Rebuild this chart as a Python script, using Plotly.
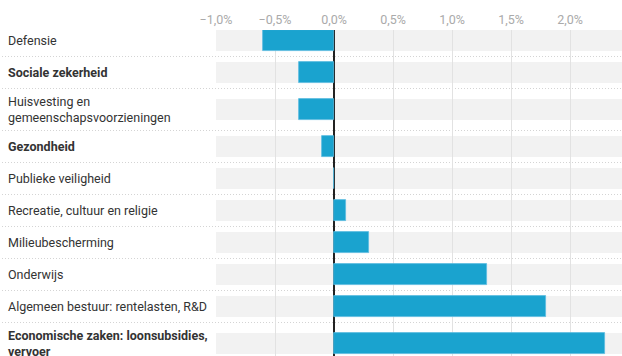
import plotly.graph_objects as go

# Change in spending share per government function (percentage points)
categories = [
    "Defensie",
    "Sociale zekerheid",
    "Huisvesting en<br>gemeenschapsvoorzieningen",
    "Gezondheid",
    "Publieke veiligheid",
    "Recreatie, cultuur en religie",
    "Milieubescherming",
    "Onderwijs",
    "Algemeen bestuur: rentelasten, R&D",
    "Economische zaken: loonsubsidies,<br>vervoer",
]
values = [-0.6, -0.3, -0.3, -0.1, 0.0, 0.1, 0.3, 1.3, 1.8, 2.3]
bold_rows = {"Sociale zekerheid", "Gezondheid", "Economische zaken: loonsubsidies,<br>vervoer"}

tick_vals = [-1.0, -0.5, 0.0, 0.5, 1.0, 1.5, 2.0]
tick_text = ["\u22121,0%", "\u22120,5%", "0,0%", "0,5%", "1,0%", "1,5%", "2,0%"]

W, H = 622, 356
PLOT_TOP = 30
LEFT = 216
X_MIN, X_MAX = -1.0, 2.44

# Row layout in pixel units: taller rows for two-line labels
row_h_single, row_h_double = 32, 42
centers, bounds = [], []
y = 24.5
for c in categories:
    h = row_h_double if "<br>" in c else row_h_single
    centers.append(y + h / 2)
    y += h
    bounds.append(y)

BAR_W = 21
BLUE = "#1aa3cf"

fig = go.Figure()
fig.add_trace(go.Bar(
    x=values, y=centers, orientation="h", width=BAR_W,
    marker=dict(color=BLUE, line=dict(color="#5cbde0", width=0.8)),
    hoverinfo="x",
))

shapes = []
# grey background bands behind each bar
for cy in centers:
    shapes.append(dict(type="rect", xref="x", yref="y", layer="below",
                       x0=X_MIN, x1=X_MAX, y0=cy - BAR_W / 2, y1=cy + BAR_W / 2,
                       fillcolor="#f2f2f2", line=dict(width=0)))
# fine dotted row separators
for b in bounds[:-1]:
    shapes.append(dict(type="line", xref="paper", yref="y", layer="below",
                       x0=-1, x1=1, y0=b, y1=b,
                       line=dict(color="#d4d4d4", width=1, dash="1px,2px")))

annotations = []
for c, cy in zip(categories, centers):
    txt = "<b>%s</b>" % c.replace("<br>", "</b><br><b>") if c in bold_rows else c
    annotations.append(dict(
        text=txt, xref="paper", yref="y", x=-(LEFT - 6) / (W - LEFT), y=cy,
        xanchor="left", yanchor="middle", align="left", showarrow=False,
        font=dict(family="Roboto", size=12.5, color="#333333"),
    ))

fig.update_layout(
    width=W, height=H,
    margin=dict(l=LEFT, r=0, t=0, b=0),
    paper_bgcolor="white", plot_bgcolor="white",
    showlegend=False,
    bargap=0,
    shapes=shapes,
    annotations=annotations,
    font=dict(family="Roboto"),
    xaxis=dict(
        range=[X_MIN, X_MAX], side="top",
        tickvals=tick_vals, ticktext=tick_text,
        tickfont=dict(family="Roboto", size=12.5, color="#aaaaaa"),
        ticklabelstandoff=3,
        showgrid=True, gridcolor="#e2e2e2", gridwidth=1,
        zeroline=True, zerolinecolor="#222222", zerolinewidth=2,
        showline=False, ticks="", layer="above traces",
    ),
    yaxis=dict(
        range=[H, PLOT_TOP], domain=[0, (H - PLOT_TOP) / H],
        showticklabels=False, showgrid=False, zeroline=False, showline=False,
    ),
)

fig.write_html("out.html")
